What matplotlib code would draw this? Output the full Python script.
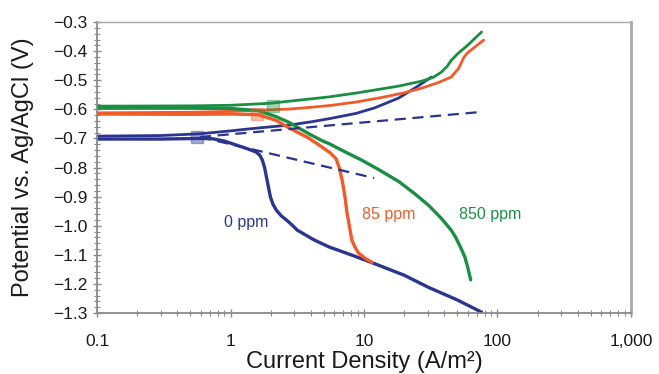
import matplotlib
matplotlib.use("Agg")
import matplotlib.pyplot as plt
from matplotlib.ticker import FixedLocator, LogLocator, NullFormatter, MultipleLocator

plt.rcParams['font.family'] = ['Liberation Sans', 'DejaVu Sans']

# Polarization curves (current density in A/m^2, potential in V vs Ag/AgCl)
blue_anodic_i = [0.1, 0.3, 0.59, 1.0, 1.39, 2.0, 2.75, 4.0, 5.5, 8.7, 12, 18.2, 25, 32]
blue_anodic_v = [-0.692, -0.690, -0.684, -0.674, -0.667, -0.660, -0.654, -0.643, -0.632,
                 -0.614, -0.595, -0.561, -0.522, -0.489]
blue_cath_i = [0.1, 0.3, 0.59, 0.734, 0.9, 1.11, 1.35, 1.56, 1.66, 1.73, 1.80, 1.86, 1.93,
               1.99, 2.08, 2.20, 2.40, 2.62, 2.90, 3.16, 4.2, 5.48, 8, 11.5, 20, 30.5,
               50, 76]
blue_cath_v = [-0.702, -0.702, -0.700, -0.701, -0.709, -0.723, -0.736, -0.747, -0.758,
               -0.774, -0.800, -0.833, -0.870, -0.901, -0.926, -0.946, -0.966, -0.980,
               -0.998, -1.015, -1.048, -1.073, -1.100, -1.127, -1.170, -1.212, -1.255,
               -1.297]

orange_anodic_i = [0.1, 0.5, 1.0, 1.6, 2.75, 4, 5.5, 8.7, 14, 20, 27.1, 36, 45, 51, 53,
                   55, 57, 60, 68, 78.7]
orange_anodic_v = [-0.612, -0.610, -0.607, -0.603, -0.599, -0.593, -0.587, -0.575, -0.558,
                   -0.543, -0.527, -0.508, -0.489, -0.460, -0.445, -0.428, -0.416, -0.405,
                   -0.385, -0.362]
orange_cath_i = [0.1, 0.5, 1.0, 1.6, 2.2, 2.75, 3.8, 4.87, 5.6, 6.18, 6.5, 6.86, 7.2,
                 7.46, 7.8, 8.1, 8.6, 9.1, 10.2, 11.5]
orange_cath_v = [-0.616, -0.617, -0.616, -0.618, -0.638, -0.664, -0.697, -0.730, -0.750,
                 -0.770, -0.798, -0.843, -0.900, -0.956, -1.005, -1.049, -1.075, -1.094,
                 -1.112, -1.126]

green_anodic_i = [0.1, 0.5, 1.0, 2.0, 2.75, 4.0, 5.5, 8.7, 13, 18.2, 27.1, 33, 38, 42,
                  45, 50, 60, 76]
green_anodic_v = [-0.589, -0.588, -0.586, -0.579, -0.572, -0.564, -0.557, -0.544, -0.531,
                  -0.520, -0.503, -0.490, -0.472, -0.452, -0.432, -0.410, -0.379, -0.334]
green_cath_i = [0.1, 0.5, 1.0, 1.6, 2.2, 2.75, 3.9, 4.87, 5.48, 7.5, 9.66, 13, 18.2, 24,
                30.5, 38, 45, 48.6, 53, 57, 60, 63]
green_cath_v = [-0.596, -0.596, -0.597, -0.604, -0.625, -0.645, -0.685, -0.708, -0.718,
                -0.750, -0.775, -0.808, -0.848, -0.890, -0.930, -0.975, -1.015, -1.040,
                -1.075, -1.108, -1.145, -1.186]

# Tafel extrapolations for the 0 ppm curve
tafel_anodic_i = [0.59, 75]
tafel_anodic_v = [-0.695, -0.609]
tafel_cath_i = [0.59, 11.9]
tafel_cath_v = [-0.695, -0.836]

# Corrosion points
corr_i = [0.557, 1.59, 2.09]
corr_v = [-0.695, -0.616, -0.589]

labels = ['0 ppm', '85 ppm', '850 ppm']
label_i = [1.32, 15.4, 88.7]
label_v = [-0.99, -0.963, -0.963]

x_ticks = [0.1, 1, 10, 100, 1000]
x_ticklabels = ['0.1', '1', '10', '100', '1,000']
y_ticks = [-0.3, -0.4, -0.5, -0.6, -0.7, -0.8, -0.9, -1.0, -1.1, -1.2, -1.3]

BLUE = '#2b3590'
ORANGE = '#f15a29'
GREEN = '#1a8f43'
colors = [BLUE, ORANGE, GREEN]

fig = plt.figure(figsize=(6.59, 3.74), dpi=100)
ax = fig.add_axes([0.1472, 0.163, 0.8103, 0.778])

lw = 2.0
kw = dict(solid_capstyle='round', solid_joinstyle='round')
ax.plot(blue_anodic_i, blue_anodic_v, color=BLUE, lw=lw, **kw)
ax.plot(blue_cath_i, blue_cath_v, color=BLUE, lw=lw + 0.4, **kw)
ax.plot(orange_anodic_i, orange_anodic_v, color=ORANGE, lw=lw, **kw)
ax.plot(orange_cath_i, orange_cath_v, color=ORANGE, lw=lw + 0.4, **kw)
ax.plot(green_anodic_i, green_anodic_v, color=GREEN, lw=lw, **kw)
ax.plot(green_cath_i, green_cath_v, color=GREEN, lw=lw + 0.4, **kw)

ax.plot(tafel_anodic_i, tafel_anodic_v, color=BLUE, lw=1.6, dashes=(5, 3))
ax.plot(tafel_cath_i, tafel_cath_v, color=BLUE, lw=1.6, dashes=(5, 3))

for ci, cv, c in zip(corr_i, corr_v, colors):
    ax.plot([ci], [cv], marker='s', ms=8, color=c, alpha=0.4, mec=c, mew=1.0)

for t, li, lv, c in zip(labels, label_i, label_v, colors):
    ax.text(li, lv, t, color=c, fontsize=11.5, ha='center', va='center')

ax.set_xscale('log')
ax.set_xlim(0.1, 1000)
ax.set_ylim(-1.3, -0.3)
ax.xaxis.set_major_locator(FixedLocator(x_ticks))
ax.set_xticklabels(x_ticklabels)
ax.xaxis.set_minor_locator(LogLocator(base=10, subs=range(2, 10)))
ax.xaxis.set_minor_formatter(NullFormatter())
ax.set_yticks(y_ticks)
ax.set_yticklabels([f'\u2212{abs(v):.1f}' for v in y_ticks])
ax.yaxis.set_minor_locator(MultipleLocator(0.02))

ax.tick_params(which='both', direction='inout', color='#8a8a8a', labelsize=12.5,
               labelcolor='#1a1a1a')
ax.tick_params(which='major', length=6, width=1.0)
ax.tick_params(which='minor', length=4, width=0.8)
ax.tick_params(axis='y', pad=4)
ax.tick_params(axis='x', pad=12)

for side in ('left', 'bottom'):
    ax.spines[side].set_color('#8a8a8a')
    ax.spines[side].set_linewidth(1.3)
ax.spines['top'].set_color('#a8a8a8')
ax.spines['top'].set_linewidth(1.0)
ax.spines['right'].set_color('#a8a8a8')
ax.spines['right'].set_linewidth(2.0)

ax.set_xlabel('Current Density (A/m\u00b2)', fontsize=17, color='#1a1a1a', va='center')
ax.xaxis.set_label_coords(0.5, -0.168)
ax.set_ylabel('Potential vs. Ag/AgCl (V)', fontsize=17, color='#1a1a1a', va='center')
ax.yaxis.set_label_coords(-0.1386, 0.5)

fig.savefig('out.png', dpi=100)
